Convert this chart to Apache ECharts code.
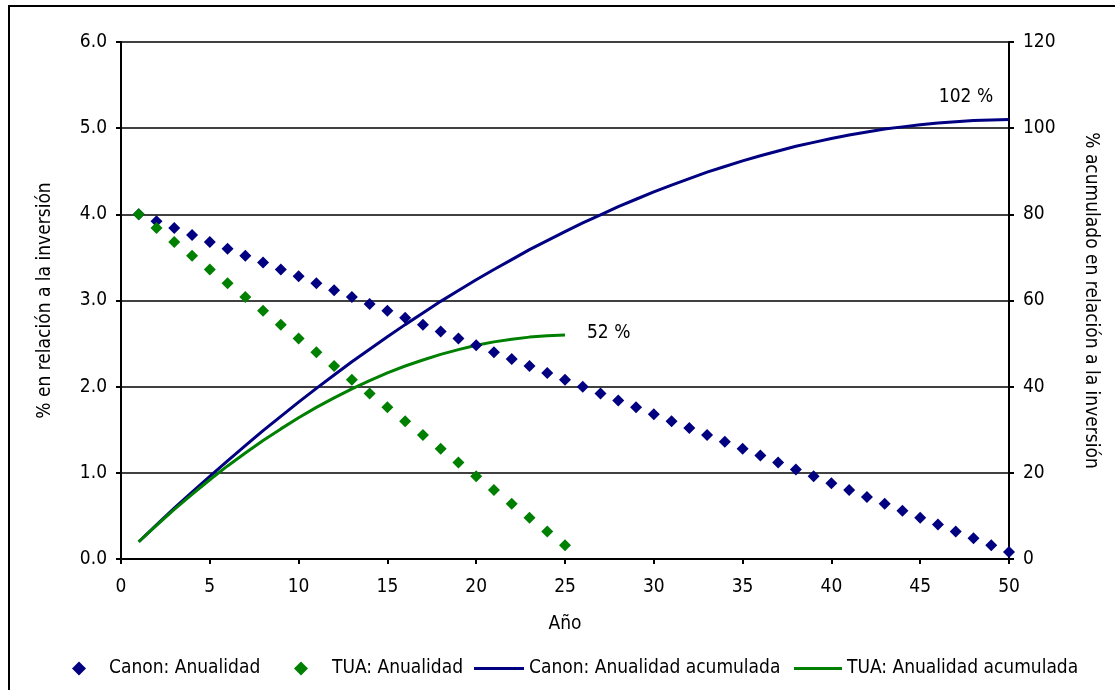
<!DOCTYPE html>
<html><head><meta charset="utf-8">
<script src="https://cdn.jsdelivr.net/npm/echarts@6/dist/echarts.min.js"></script>
<style>html,body{margin:0;padding:0;background:#fff}#c{width:1115px;height:690px}</style>
</head><body><div id="c"></div>
<script>
const years = [1,2,3,4,5,6,7,8,9,10,11,12,13,14,15,16,17,18,19,20,21,22,23,24,25,26,27,28,29,30,31,32,33,34,35,36,37,38,39,40,41,42,43,44,45,46,47,48,49,50];
const canonAnual = [4.00,3.92,3.84,3.76,3.68,3.60,3.52,3.44,3.36,3.28,3.20,3.12,3.04,2.96,2.88,2.80,2.72,2.64,2.56,2.48,2.40,2.32,2.24,2.16,2.08,2.00,1.92,1.84,1.76,1.68,1.60,1.52,1.44,1.36,1.28,1.20,1.12,1.04,0.96,0.88,0.80,0.72,0.64,0.56,0.48,0.40,0.32,0.24,0.16,0.08];
const tuaAnual = [4.00,3.84,3.68,3.52,3.36,3.20,3.04,2.88,2.72,2.56,2.40,2.24,2.08,1.92,1.76,1.60,1.44,1.28,1.12,0.96,0.80,0.64,0.48,0.32,0.16];
const canonAcum = [4.0,7.9,11.8,15.5,19.2,22.8,26.3,29.8,33.1,36.4,39.6,42.7,45.8,48.7,51.6,54.4,57.1,59.8,62.3,64.8,67.2,69.5,71.8,73.9,76.0,78.0,79.9,81.8,83.5,85.2,86.8,88.3,89.8,91.1,92.4,93.6,94.7,95.8,96.7,97.6,98.4,99.1,99.8,100.3,100.8,101.2,101.5,101.8,101.9,102.0];
const tuaAcum = [4.0,7.8,11.5,15.0,18.4,21.6,24.6,27.5,30.2,32.8,35.2,37.4,39.5,41.4,43.2,44.8,46.2,47.5,48.6,49.6,50.4,51.0,51.5,51.8,52.0];
const leftTicks = {min:0,max:6,interval:1};
const rightTicks = {min:0,max:120,interval:20};
const labels = {canon:'102 %', tua:'52 %'};

const FONT = '"DejaVu Sans Condensed", "DejaVu Sans"';
const pair = (xs, ys) => ys.map((v,i)=>[xs[i], v]);
const chart = echarts.init(document.getElementById('c'), null, {renderer:'canvas'});
const txt = {fontFamily:FONT, fontSize:19, color:'#000'};
const NAVY = '#000080', GREEN = '#008000';
function leg(left, name, icon, color, w, h, pad) {
  return {bottom:7, left:left, itemWidth:w, itemHeight:h, textStyle:{...txt, padding:[0,0,0,pad]},
    data:[{name:name, icon:icon, itemStyle:{color:color, opacity:1}}]};
}
chart.setOption({
  animation:false,
  textStyle:{fontFamily:FONT},
  graphic:[{type:'rect', shape:{x:9, y:6, width:1300, height:900}, style:{fill:null, stroke:'#000', lineWidth:2}, silent:true}],
  grid:{left:121, right:106, top:42, bottom:131, containLabel:false},
  legend:[
    leg(67, 'Canon: Anualidad', 'diamond', NAVY, 14, 14, 18),
    leg(289, 'TUA: Anualidad', 'diamond', GREEN, 14, 14, 19),
    leg(469, 'Canon: Anualidad acumulada', 'rect', NAVY, 50, 3, 0),
    leg(789, 'TUA: Anualidad acumulada', 'rect', GREEN, 48, 3, 0)
  ],
  xAxis:{
    type:'value', min:0, max:50, interval:5,
    name:'Año', nameLocation:'middle', nameGap:56, nameTextStyle:txt,
    axisLine:{lineStyle:{color:'#000', width:2}},
    axisTick:{show:true, inside:false, length:5, lineStyle:{color:'#000', width:2}},
    axisLabel:{...txt, margin:19},
    splitLine:{show:false}
  },
  yAxis:[
    {type:'value', ...leftTicks, position:'left',
     name:'% en relación a la inversión', nameLocation:'middle', nameGap:66, nameRotate:90, nameTextStyle:txt,
     axisLine:{show:true, lineStyle:{color:'#000', width:2}},
     axisTick:{show:true, inside:false, length:5, lineStyle:{color:'#000', width:2}},
     axisLabel:{...txt, margin:14, formatter:v=>v.toFixed(1)},
     splitLine:{show:true, lineStyle:{color:'#000', width:1.5}}
    },
    {type:'value', ...rightTicks, position:'right',
     name:'% acumulado en relación a la inversión', nameLocation:'middle', nameGap:72, nameRotate:-90, nameTextStyle:txt,
     axisLine:{show:true, lineStyle:{color:'#000', width:2}},
     axisTick:{show:true, inside:false, length:5, lineStyle:{color:'#000', width:2}},
     axisLabel:{...txt, margin:14},
     splitLine:{show:false}
    }
  ],
  series:[
    {name:'Canon: Anualidad acumulada', type:'line', yAxisIndex:1, data:pair(years, canonAcum), showSymbol:false, symbol:'none',
     lineStyle:{color:NAVY, width:3}, itemStyle:{color:NAVY}, z:2,
     markPoint:{symbol:'circle', symbolSize:0, data:[{coord:[50,102], value:labels.canon}],
       label:{show:true, position:'top', offset:[-43,-8], ...txt, formatter:labels.canon}}},
    {name:'TUA: Anualidad acumulada', type:'line', yAxisIndex:1, data:pair(years, tuaAcum), showSymbol:false, symbol:'none',
     lineStyle:{color:GREEN, width:3}, itemStyle:{color:GREEN}, z:2,
     markPoint:{symbol:'circle', symbolSize:0, data:[{coord:[25,52], value:labels.tua}],
       label:{show:true, position:'right', offset:[17,-2], ...txt, formatter:labels.tua}}},
    {name:'Canon: Anualidad', type:'scatter', yAxisIndex:0, data:pair(years, canonAnual), symbol:'diamond', symbolSize:12,
     itemStyle:{color:NAVY, opacity:1}, z:3},
    {name:'TUA: Anualidad', type:'scatter', yAxisIndex:0, data:pair(years, tuaAnual), symbol:'diamond', symbolSize:12,
     itemStyle:{color:GREEN, opacity:1}, z:4}
  ]
});
</script></body></html>
